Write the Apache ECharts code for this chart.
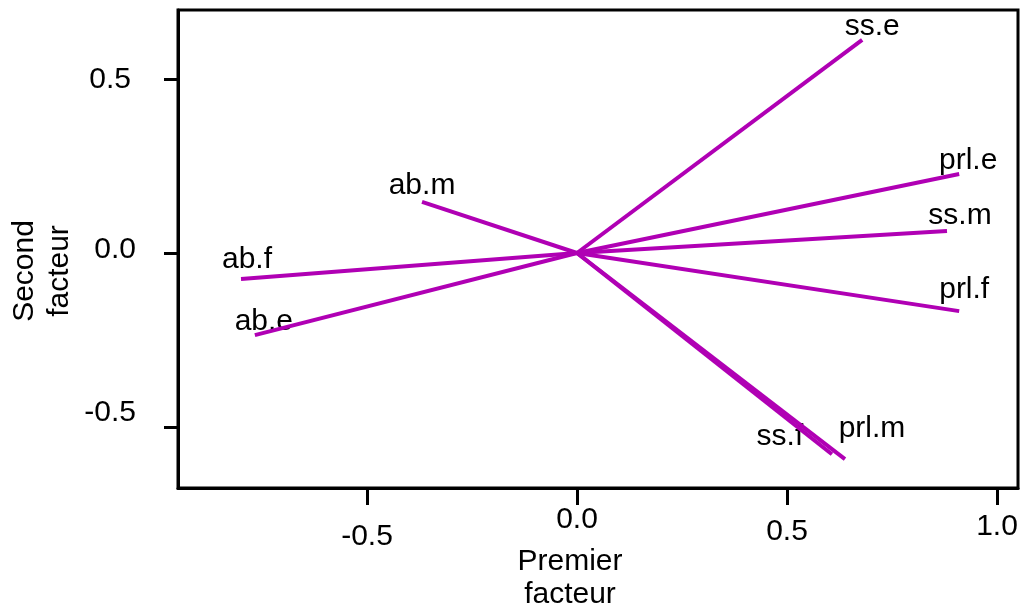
<!DOCTYPE html>
<html>
<head>
<meta charset="utf-8">
<script src="https://cdn.jsdelivr.net/npm/echarts@6/dist/echarts.min.js"></script>
<style>
html,body{margin:0;padding:0;background:#fff;}
#c{width:1022px;height:607px;}
</style>
</head>
<body>
<div id="c"></div>
<script>
// Data (loadings on first and second factor)
const variables = ['ss.e','prl.e','ss.m','prl.f','prl.m','ss.f','ab.m','ab.f','ab.e'];
const factor1 = [0.679, 0.910, 0.881, 0.910, 0.638, 0.607, -0.369, -0.800, -0.767];
const factor2 = [0.612, 0.227, 0.063, -0.167, -0.592, -0.578, 0.147, -0.075, -0.236];
const xTicks = [-0.5, 0.0, 0.5, 1.0];
const yTicks = [-0.5, 0.0, 0.5];

// label offsets (px) relative to arrow tip
const labelOffsets = {
  'ss.e':[10,-13],'prl.e':[9,-13],'ss.m':[13,-15],'prl.f':[5,-21],
  'prl.m':[27,-30],'ss.f':[-52,-17],'ab.m':[0,-16],'ab.f':[6,-19],'ab.e':[9,-13]
};
// small per-label nudges of tick labels as in the original figure (padding, px)
const xLabelPad = {'-0.5':[17,0,0,0],'0.0':[0,0,0,0],'0.5':[12,0,0,0],'1.0':[7,0,0,0]};
const yLabelPad = {'-0.5':[0,0,28,0],'0.0':[0,0,6,0],'0.5':[2,5,0,0]};

const FONT = 'Liberation Sans, Arial, sans-serif';
const COLOR = '#b000b4';

const series = variables.map((v,i)=>({
  type:'line', name:v, data:[[0,0],[factor1[i],factor2[i]]],
  showSymbol:false, symbol:'none', silent:true, animation:false,
  lineStyle:{color:COLOR,width:4}
}));
series.push({
  type:'scatter', symbolSize:0, animation:false, silent:true,
  itemStyle:{color:'#000',opacity:1},
  label:{show:true, position:'inside', formatter:p=>p.name,
    color:'#000', fontFamily:FONT, fontSize:30, textBorderWidth:0},
  data: variables.map((v,i)=>({
    name:v,
    value:[factor1[i],factor2[i]],
    label:{offset:labelOffsets[v]}
  }))
});

function richFor(pads){
  const r = {};
  Object.keys(pads).forEach((k,i)=>{
    r['t'+i] = {padding:pads[k], color:'#000', fontFamily:FONT, fontSize:30};
  });
  return r;
}
function fmtFor(pads){
  const keys = Object.keys(pads);
  return v => { const s = v.toFixed(1); const i = keys.indexOf(s); return '{t'+i+'|'+s+'}'; };
}

const chart = echarts.init(document.getElementById('c'));
chart.setOption({
  backgroundColor:'#fff',
  animation:false,
  grid:{left:178,top:10,right:4,bottom:119,containLabel:false,outerBoundsMode:'none',
    show:true,borderColor:'#000',borderWidth:3,backgroundColor:'transparent'},
  xAxis:{
    type:'value', min:-0.95, max:1.05,
    splitLine:{show:false},
    axisLine:{show:true,onZero:false,lineStyle:{color:'#000',width:3}},
    axisTick:{show:true,length:17,lineStyle:{color:'#000',width:3},customValues:xTicks},
    axisLabel:{customValues:xTicks,formatter:fmtFor(xLabelPad),rich:richFor(xLabelPad),
      color:'#000',fontFamily:FONT,fontSize:30,margin:17},
    name:'Premier\nfacteur', nameLocation:'middle', nameGap:57, nameMoveOverlap:false,
    nameTextStyle:{color:'#000',fontFamily:FONT,fontSize:30,lineHeight:33,padding:[0,56,0,0]}
  },
  yAxis:{
    type:'value', min:-0.675, max:0.698,
    splitLine:{show:false},
    axisLine:{show:true,onZero:false,lineStyle:{color:'#000',width:3}},
    axisTick:{show:true,length:14,lineStyle:{color:'#000',width:3},customValues:yTicks},
    axisLabel:{customValues:yTicks,formatter:fmtFor(yLabelPad),rich:richFor(yLabelPad),
      color:'#000',fontFamily:FONT,fontSize:30,margin:42},
    name:'Second\nfacteur', nameLocation:'middle', nameGap:101, nameRotate:90, nameMoveOverlap:false,
    nameTextStyle:{color:'#000',fontFamily:FONT,fontSize:30,lineHeight:35,padding:[0,44,0,0]}
  },
  series:series
});
</script>
</body>
</html>
